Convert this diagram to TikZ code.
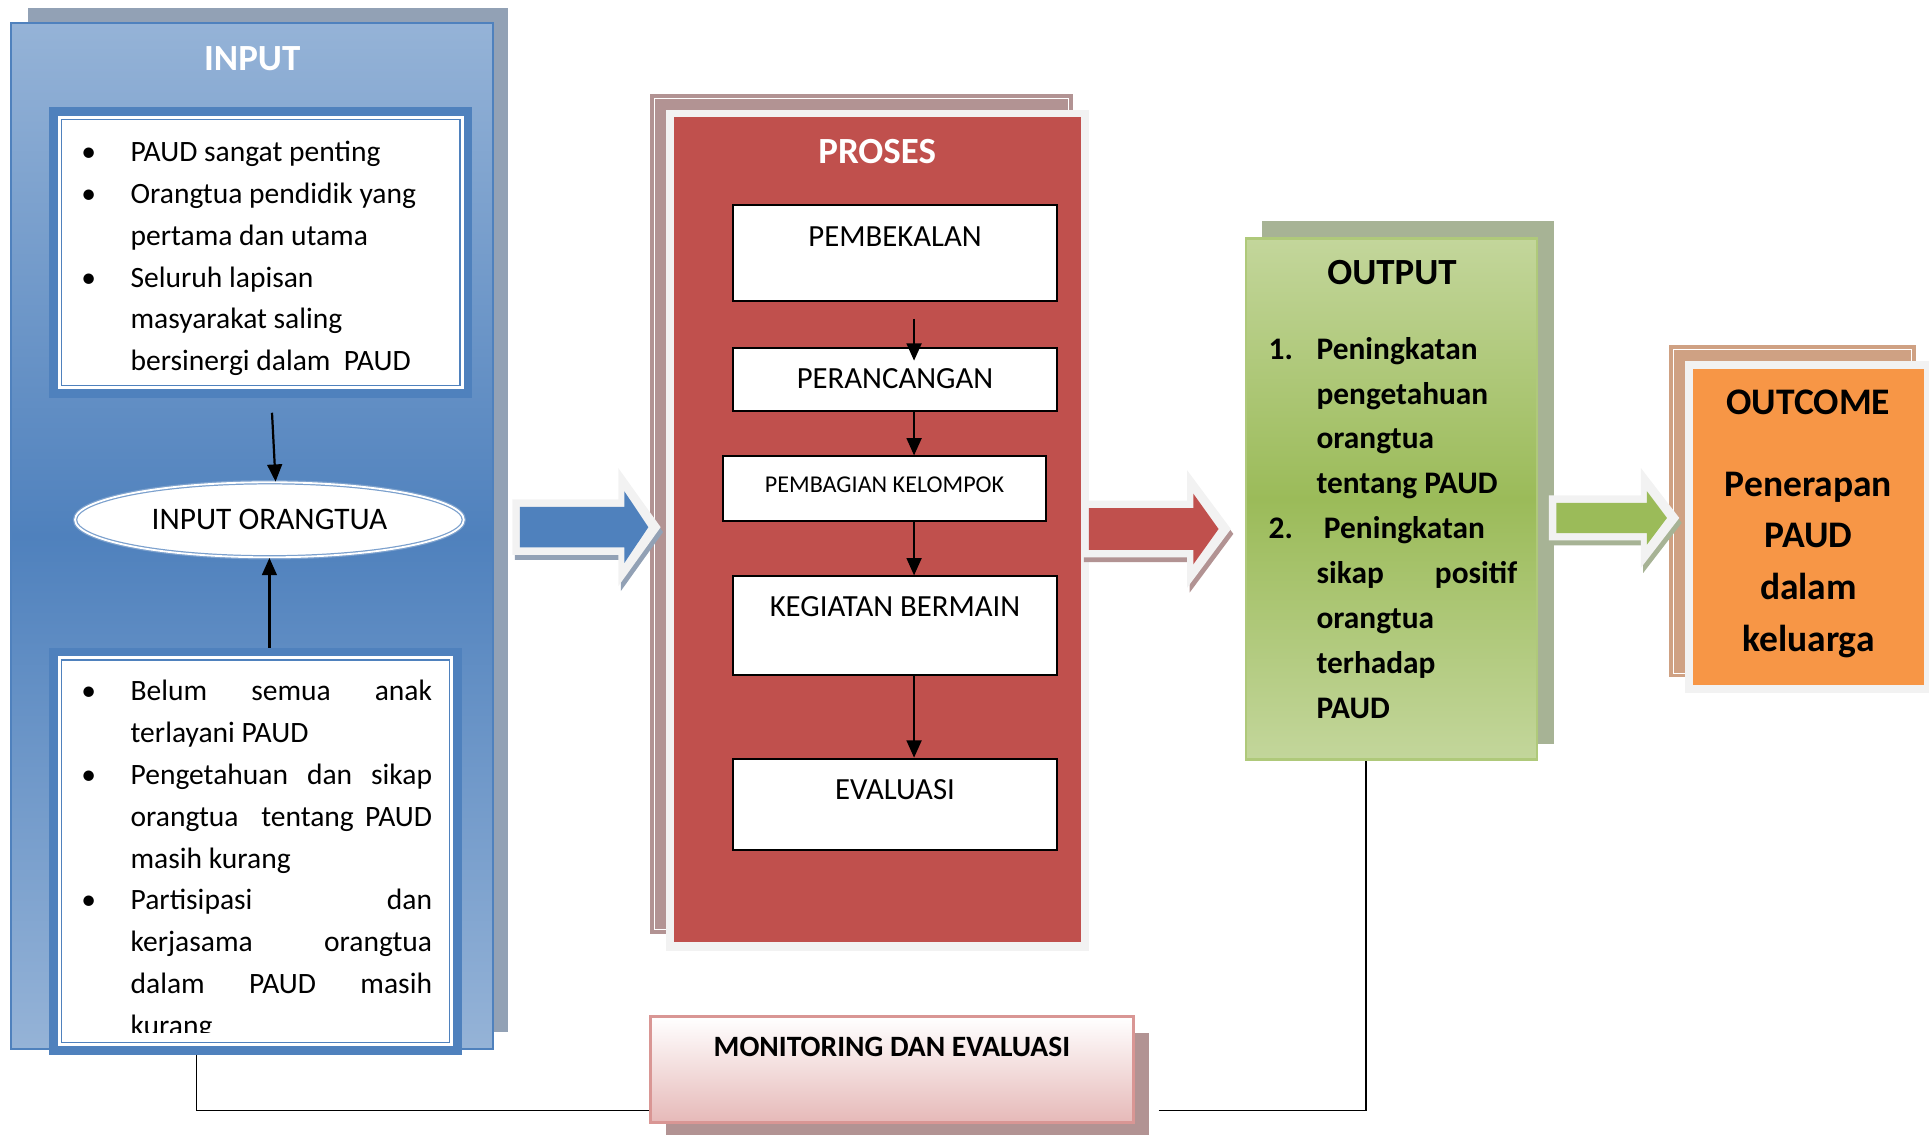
\documentclass[tikz,border=0pt]{standalone}
\usepackage{fontspec}
\setmainfont{Carlito}
\usepackage{tikz}
\usetikzlibrary{arrows.meta,positioning,calc,backgrounds,shapes.geometric}

\definecolor{biruTua}{RGB}{79,129,189}
\definecolor{biruMuda}{RGB}{149,179,215}
\definecolor{abuBiru}{RGB}{146,161,181}
\definecolor{merah}{RGB}{192,80,77}
\definecolor{mauve}{RGB}{178,147,147}
\definecolor{abuTerang}{RGB}{242,242,242}
\definecolor{hijauTua}{RGB}{155,187,89}
\definecolor{hijauMuda}{RGB}{195,214,155}
\definecolor{hijauAbu}{RGB}{167,179,149}
\definecolor{oranye}{RGB}{247,150,70}
\definecolor{coklat}{RGB}{207,161,131}
\definecolor{pinkTua}{RGB}{217,150,148}
\definecolor{pinkMuda}{RGB}{230,185,184}

% block arrow outline: pangkal, ujung, badan, kepala, panjang kepala, lebih ujung, lebih pangkal
\newcommand{\bentuk}[7]{($(#1)+({-(#7)},{-(#3)})$) -- ($(#2)+({-(#5)},{-(#3)})$) -- ($(#2)+({-(#5)},{-(#4)})$) -- ($(#2)+({#6},0)$) -- ($(#2)+({-(#5)},{#4})$) -- ($(#2)+({-(#5)},{#3})$) -- ($(#1)+({-(#7)},{#3})$) -- cycle}
\newcommand{\panahblok}[7]{%
  \fill[#7, transform canvas={xshift=2pt,yshift=-4pt}] \bentuk{#1}{#2}{#3+6}{#4+19}{#5+5}{10}{6};
  \fill[abuTerang] \bentuk{#1}{#2}{#3+6}{#4+19}{#5+5}{10}{6};
  \fill[#6] \bentuk{#1}{#2}{#3}{#4}{#5}{0}{0};
}

\begin{document}
\begin{tikzpicture}[
    x=1pt, y=-1pt,
    font=\fontsize{24}{34}\selectfont,
    panah/.style={-{Triangle[length=14pt,width=12pt]}, line width=1.8pt},
    garis/.style={line width=1.3pt},
    judul/.style={font=\fontsize{30}{36}\selectfont\bfseries, inner sep=0pt},
    kotak/.style={draw=black, line width=1.6pt, fill=white, minimum width=263pt, inner xsep=0pt, inner ysep=17pt, text height=16pt, text depth=#1, font=\fontsize{25}{30}\selectfont},
    daftar/.style={draw=biruTua, line width=7pt, fill=white, inner sep=0pt}
]
\useasboundingbox (0,0) rectangle (1568,922);

% INPUT
\node[draw=biruTua, line width=1.5pt, top color=biruMuda, bottom color=biruMuda, middle color=biruTua, minimum width=392pt, minimum height=834pt, inner sep=0pt] (input) at (205,435.5) {};
\node[judul, text=white] (inputJudul) at (205,48) {INPUT};

\node[daftar, minimum width=336.8pt, minimum height=229.5pt] (inputA) at (212.1,205.25) {};
\draw[biruTua, line width=1pt] ($(inputA.north west)+(10,10)$) rectangle ($(inputA.south east)+(-10,-10)$);
\node[anchor=north west, inner sep=0pt] (inputAteks) at (66,107.3) {%
  \begin{tabular}{@{}p{40pt}@{}p{252pt}@{}}
  \textbullet & PAUD sangat penting\\
  \textbullet & Orangtua pendidik yang\newline pertama dan utama\\
  \textbullet & Seluruh lapisan\newline masyarakat saling\newline bersinergi dalam\ \ PAUD
  \end{tabular}};

\node[ellipse, draw=biruTua!75, double=white, double distance=1.5pt, line width=1pt, fill=white, minimum width=316pt, minimum height=61pt, inner sep=0pt, font=\fontsize{25.5}{30}\selectfont] (ortu) at (219,422.5) {INPUT ORANGTUA};

\node[daftar, minimum width=328.3pt, minimum height=324pt] (inputB) at (207.85,692) {};
\draw[biruTua, line width=1pt] ($(inputB.north west)+(10,10)$) rectangle ($(inputB.south east)+(-10,-10)$);
\begin{scope}
  \clip ($(inputB.north west)+(7,7)$) rectangle ($(inputB.south east)+(-7,-18)$);
  \node[anchor=north west, inner sep=0pt] (inputBteks) at (66,545.6) {%
    \begin{tabular}{@{}p{40pt}@{}p{245pt}@{}}
    \textbullet & Belum semua anak\linebreak terlayani PAUD\\
    \textbullet & Pengetahuan dan sikap\linebreak orangtua\ \ tentang PAUD\linebreak masih kurang\\
    \textbullet & Partisipasi dan\linebreak kerjasama orangtua\linebreak dalam PAUD masih\linebreak kurang
    \end{tabular}};
\end{scope}

\draw[panah] ([xshift=9pt,yshift=-12pt]inputA.south) -- ([xshift=5pt]ortu.north);
\draw[panah] (ortu.south |- inputB.north) -- (ortu.south);

% PROSES
\node[fill=merah, minimum width=331pt, minimum height=670.5pt, inner sep=0pt] (proses) at (713.5,430.75) {};
\node[judul, text=white] (prosesJudul) at (713,123) {PROSES};

\node[kotak=27.4pt] (bekal) at (727.5,205.7) {PEMBEKALAN};
\node[kotak=1pt, below=37pt of bekal] (rancang) {PERANCANGAN};
\node[kotak=6.5pt, text height=12pt, font=\fontsize{19.6}{22}\selectfont, below=35.4pt of rancang, xshift=-8.5pt] (bagi) {PEMBAGIAN KELOMPOK};
\node[kotak=29.8pt, below=43.4pt of bagi, xshift=8.5pt] (bermain) {KEGIATAN BERMAIN};
\node[kotak=24.2pt, below=66.8pt of bermain] (evaluasi) {EVALUASI};

\draw[panah] ([xshift=15.5pt,yshift=-14pt]bekal.south) -- ([xshift=15.5pt,yshift=-11pt]rancang.north);
\draw[panah] ([xshift=15.5pt]rancang.south) -- ([xshift=24pt]bagi.north);
\draw[panah] ([xshift=24pt]bagi.south) -- ([xshift=15.5pt]bermain.north);
\draw[panah] ([xshift=15.5pt]bermain.south) -- ([xshift=15.5pt]evaluasi.north);

% MONITORING
\node[draw=pinkTua, line width=2.5pt, top color=white, bottom color=pinkMuda, minimum width=393pt, inner xsep=0pt, inner ysep=17pt, text height=15pt, text depth=37pt, font=\fontsize{24}{28}\selectfont\bfseries] (monev) at (725,869.6) {MONITORING DAN EVALUASI};

% OUTPUT
\node[draw=hijauTua!80, line width=2pt, top color=hijauMuda, bottom color=hijauMuda, middle color=hijauTua, minimum width=236.4pt, minimum height=423.7pt, inner sep=0pt] (output) at (1131.2,405.55) {};
\node[judul] (outputJudul) at (1131.5,221.7) {OUTPUT};
\node[anchor=north west, inner sep=0pt, font=\fontsize{25.5}{36.5}\selectfont\bfseries] (outputTeks) at (1031,266.2) {%
  \begin{tabular}{@{}p{39pt}@{}p{163pt}@{}}
  1. & Peningkatan\newline pengetahuan\newline orangtua\newline tentang PAUD\\
  2. & \hspace{6pt}Peningkatan\newline sikap positif\linebreak orangtua\newline terhadap\newline PAUD
  \end{tabular}};

% OUTCOME
\node[fill=oranye, minimum width=188pt, minimum height=257pt, inner sep=0pt] (outcome) at (1470,428.5) {};
\node[anchor=north, align=center, inner sep=0pt, font=\fontsize{30.5}{42}\selectfont\bfseries] (outcomeTeks) at (1470,317)
  {OUTCOME\\[24pt]Penerapan\\PAUD\\dalam\\keluarga};

% shadows and frames
\begin{scope}[on background layer]
  \fill[abuBiru] ($(input.north west)+(14.5,-11.5)$) rectangle ($(input.south east)+(11,-14)$);
  \fill[mauve] ($(proses.north west)+(-19.6,-19)$) rectangle ($(proses.south east)+(-7,-7.3)$);
  \draw[white, line width=0.8pt] ($(proses.north west)+(-16,-15.5)$) rectangle ($(proses.south east)+(-10.5,-11)$);
  \fill[abuTerang] ($(proses.north west)+(-6.6,-6)$) rectangle ($(proses.south east)+(6,7)$);
  \fill[mauve] ($(monev.north west)+(14,14.5)$) rectangle ($(monev.south east)+(11,12)$);
  \fill[hijauAbu] ($(output.north west)+(13.5,-13)$) rectangle ($(output.south east)+(12.5,-13.7)$);
  \fill[coklat] ($(outcome.north west)+(-19,-19.5)$) rectangle ($(outcome.south east)+(-7,-6.6)$);
  \draw[white, line width=0.8pt] ($(outcome.north west)+(-15.5,-16)$) rectangle ($(outcome.south east)+(-10.5,-10)$);
  \fill[abuTerang] ($(outcome.north west)+(-6,-6.5)$) rectangle ($(outcome.south east)+(6,6)$);
\end{scope}

% block arrows
\coordinate (pbiru1) at (422.5,428.5);
\coordinate (pbiru2) at (527,428.5);
\coordinate (pmerah1) at (885,430);
\coordinate (pmerah2) at (990.5,430);
\coordinate (phijau1) at (1265,421);
\coordinate (phijau2) at (1355,421);
\panahblok{pbiru1}{pbiru2}{16.5}{29}{19.4}{biruTua}{abuBiru}
\panahblok{pmerah1}{pmerah2}{17}{28.7}{20.5}{merah}{mauve}
\panahblok{phijau1}{phijau2}{12.3}{21.7}{16.3}{hijauTua}{hijauAbu}

% feedback line
\draw[garis] ([xshift=-48pt]inputB.south) |- ([yshift=-33pt]monev.west);
\draw[garis] ([xshift=19pt,yshift=-33pt]monev.east) -| ([xshift=-21pt]output.south);
\end{tikzpicture}
\end{document}
